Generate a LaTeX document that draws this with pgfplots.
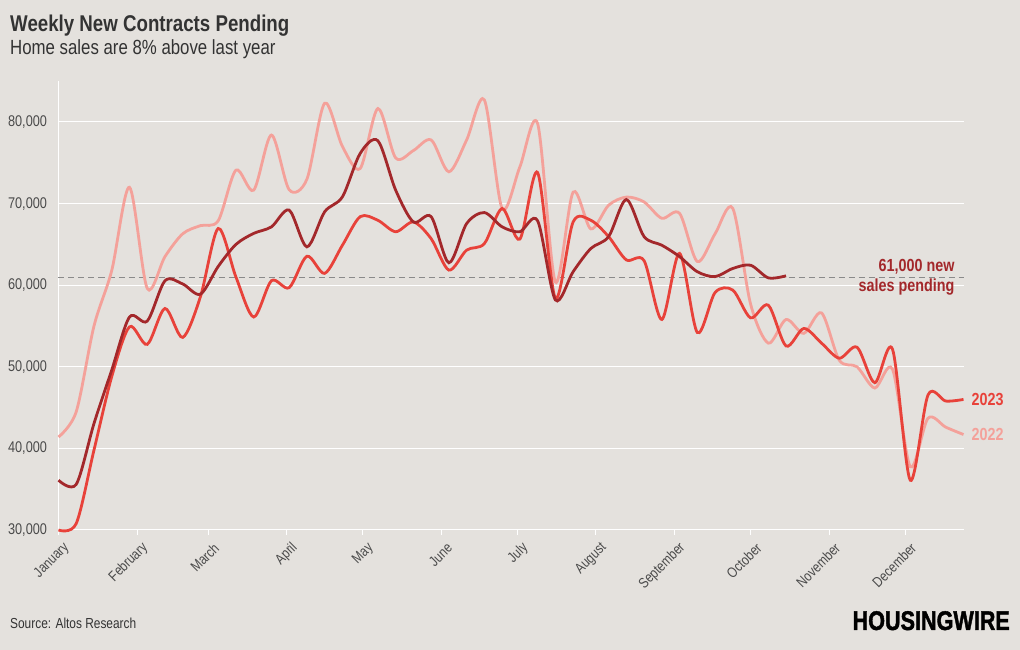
\documentclass[border=0pt]{standalone}
\usepackage{fontspec}
\setmainfont{Liberation Sans}[FakeStretch=0.82]
\newfontfamily\logofont{Liberation Sans}[UprightFont=* Bold, FakeStretch=0.8, FakeBold=1.5]
\usepackage{pgfplots}
\usepackage{pgfplotstable}
\pgfplotsset{compat=1.18}
\definecolor{bgc}{HTML}{E4E1DD}
\definecolor{cA}{HTML}{F4A19A}
\definecolor{cB}{HTML}{E8423A}
\definecolor{cC}{HTML}{A3282B}
\definecolor{txt}{HTML}{333333}
\definecolor{tickc}{HTML}{4A4A4A}
\definecolor{dashc}{HTML}{8A8A8A}

\pgfplotstableread{
x y
0 41400
7 44500
14 55000
21 61800
28 72000
35 59600
42 63500
49 66300
56 67300
63 67900
70 74100
77 71650
84 78400
91 71700
98 73000
105 82300
112 77000
119 74300
126 81650
133 75600
140 76500
147 77800
154 73900
161 77800
168 82700
175 69400
182 74500
189 79800
196 60400
203 71400
210 66900
217 69800
224 70800
231 70200
238 68200
245 68800
252 62900
259 66300
266 69400
273 57700
280 52900
287 55800
294 54100
301 56600
308 50800
315 50000
322 47400
329 49700
336 37750
343 43700
350 42600
357 41700
}\tA

\pgfplotstableread{
x y
0 30000
7 30800
14 39800
21 48800
28 54900
35 52750
42 57150
49 53600
56 58600
63 66950
70 61000
77 56100
84 60550
91 59700
98 63550
105 61450
112 64900
119 68400
126 67950
133 66550
140 67750
147 65700
154 61850
161 64300
168 65100
175 69400
182 65650
189 73800
196 58400
203 67750
210 67950
217 65950
224 63100
231 63000
238 55800
245 63900
252 54200
259 59100
266 59400
273 56000
280 57550
287 52550
294 54700
301 52900
308 51050
315 52400
322 48050
329 52150
336 36100
343 46550
350 45800
357 46000
}\tB

\pgfplotstableread{
x y
0 36100
7 35600
14 43050
21 49600
28 56100
35 55600
42 60550
49 60150
56 58900
63 62300
70 65000
77 66350
84 67150
91 69200
98 64700
105 69000
112 70830
119 76150
126 77700
133 71650
140 67750
147 68400
154 62750
161 67550
168 68900
175 67150
182 66550
189 67900
196 58200
203 61650
210 64500
217 65950
224 70500
231 65950
238 64900
245 63500
252 61650
259 61050
266 62050
273 62450
280 60900
287 61150
}\tC

\begin{document}
\begin{tikzpicture}
\useasboundingbox (0,0) rectangle (1020pt,650pt);
\fill[bgc] (0,0) rectangle (1020pt,650pt);
\node[anchor=base west, inner sep=0, text=txt, font=\fontsize{22.8}{26}\selectfont\bfseries] at (10pt,618.5pt) {Weekly New Contracts Pending};
\node[anchor=base west, inner sep=0, text=txt, font=\fontsize{20.5}{23}\selectfont] at (10pt,595pt) {Home sales are 8\% above last year};
\node[anchor=base west, inner sep=0, text=txt, font=\fontsize{14.5}{16}\selectfont] at (10pt,21pt) {Source: Altos Research};
\node[anchor=base east, inner sep=0, text=black, font=\fontsize{27}{30}\logofont] at (1010pt,20pt) {HOUSINGWIRE};
\begin{axis}[
  at={(58.5pt,120pt)}, anchor=south west,
  scale only axis, width=905pt, height=448.8pt,
  xmin=0, xmax=357, ymin=30000, ymax=85000,
  clip=false,
  separate axis lines,
  axis x line*=bottom, axis y line*=left,
  x axis line style={draw=none},
  y axis line style={white, line width=1pt},
  ymajorgrids, grid style={white, line width=1pt},
  ytick={30000,40000,50000,60000,70000,80000},
  ytick style={draw=none},
  scaled y ticks=false,
  /pgf/number format/1000 sep={,},
  /pgf/number format/assume math mode=true,
  xtick={0,31,59,90,120,151,181,212,243,273,304,334},
  xticklabels={January,February,March,April,May,June,July,August,September,October,November,December},
  xtick style={white, line width=1pt},
  tick align=outside, major tick length=5pt,
  ticklabel style={font=\fontsize{14.5}{16}\selectfont, text=tickc},
  xticklabel style={rotate=45, anchor=east, inner sep=0pt, xshift=-1.5pt, yshift=-13.5pt},
  yticklabel style={xshift=-3pt, font=\fontsize{15.5}{17}\selectfont},
]
\addplot[dashc, line width=0.8pt, dash pattern=on 6pt off 4pt] coordinates {(0,61000) (357,61000)};
\addplot[cA, line width=2.8pt, smooth, tension=0.5] table[x=x,y=y] {\tA};
\addplot[cB, line width=2.8pt, smooth, tension=0.5] table[x=x,y=y] {\tB};
\addplot[cC, line width=2.8pt, smooth, tension=0.5] table[x=x,y=y] {\tC};
\node[anchor=east, align=right, inner sep=0, text=cC, font=\fontsize{17.5}{20}\selectfont\bfseries] at (axis cs:353.5,61000) {61,000 new\\sales pending};
\node[anchor=west, inner sep=0, text=cB, font=\fontsize{17.5}{20}\selectfont\bfseries, xshift=8pt] at (axis cs:357,46000) {2023};
\node[anchor=west, inner sep=0, text=cA, font=\fontsize{17.5}{20}\selectfont\bfseries, xshift=8pt] at (axis cs:357,41700) {2022};
\end{axis}
\end{tikzpicture}
\end{document}
